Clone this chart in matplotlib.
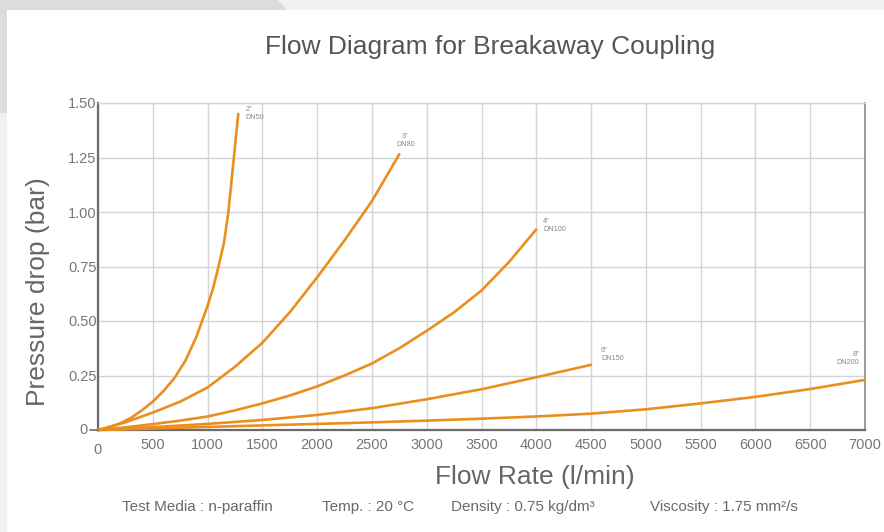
import matplotlib
matplotlib.use("Agg")
import matplotlib.pyplot as plt
from matplotlib.patches import Polygon, Rectangle

plt.rcParams['font.family'] = ['Liberation Sans', 'DejaVu Sans']

# ---- data ----
dn50_q = [0, 100, 200, 300, 400, 500, 600, 700, 800, 900, 1000, 1050, 1100, 1150, 1190, 1220, 1250, 1280]
dn50_p = [0, 0.012, 0.03, 0.055, 0.09, 0.13, 0.18, 0.24, 0.32, 0.43, 0.57, 0.65, 0.75, 0.86, 1.00, 1.15, 1.30, 1.45]

dn80_q = [0, 250, 500, 750, 1000, 1250, 1500, 1750, 2000, 2250, 2500, 2750]
dn80_p = [0, 0.035, 0.08, 0.13, 0.195, 0.29, 0.40, 0.54, 0.70, 0.87, 1.05, 1.265]

dn100_q = [0, 250, 500, 750, 1000, 1250, 1500, 1750, 2000, 2250, 2500, 2750, 3000, 3250, 3500, 3750, 4000]
dn100_p = [0, 0.012, 0.027, 0.043, 0.062, 0.09, 0.122, 0.158, 0.20, 0.25, 0.305, 0.375, 0.455, 0.54, 0.64, 0.77, 0.92]

dn150_q = [0, 250, 500, 1000, 1500, 2000, 2500, 3000, 3500, 4000, 4500]
dn150_p = [0, 0.006, 0.013, 0.028, 0.046, 0.069, 0.10, 0.141, 0.187, 0.242, 0.299]

dn200_q = [0, 500, 1000, 1500, 2000, 2500, 3000, 3500, 4000, 4500, 5000, 5500, 6000, 6500, 7000]
dn200_p = [0, 0.007, 0.014, 0.021, 0.028, 0.035, 0.043, 0.052, 0.062, 0.075, 0.095, 0.122, 0.152, 0.188, 0.23]

series_q = [dn50_q, dn80_q, dn100_q, dn150_q, dn200_q]
series_p = [dn50_p, dn80_p, dn100_p, dn150_p, dn200_p]
series_labels = ['2"\nDN50', '3"\nDN80', '4"\nDN100', '6"\nDN150', '8"\nDN200']

x_ticks = [0, 500, 1000, 1500, 2000, 2500, 3000, 3500, 4000, 4500, 5000, 5500, 6000, 6500, 7000]
y_ticks = [0, 0.25, 0.50, 0.75, 1.00, 1.25, 1.50]
y_tick_labels = ['0', '0.25', '0.50', '0.75', '1.00', '1.25', '1.50']

title = "Flow Diagram for Breakaway Coupling"
xlabel = "Flow Rate (l/min)"
ylabel = "Pressure drop (bar)"
footer = ["Test Media : n-paraffin", "Temp. : 20 °C", "Density : 0.75 kg/dm³", "Viscosity : 1.75 mm²/s"]

# ---- figure ----
W, H = 884, 532
fig = plt.figure(figsize=(W / 100, H / 100), dpi=100)
fig.patch.set_facecolor('white')

def fx(px):
    return px / W

def fy(py):
    return 1 - py / H

# background screenshot shapes
fig.patches.append(Polygon([(fx(0), fy(0)), (fx(278), fy(0)), (fx(288), fy(10)), (fx(0), fy(10))],
                           closed=True, transform=fig.transFigure, facecolor='#dcdcdc', edgecolor='none', zorder=0))
fig.patches.append(Polygon([(fx(278), fy(0)), (fx(W), fy(0)), (fx(W), fy(10)), (fx(288), fy(10))],
                           closed=True, transform=fig.transFigure, facecolor='#f1f1f1', edgecolor='none', zorder=0))
fig.patches.append(Rectangle((fx(0), fy(113)), fx(7), fy(10) - fy(113), transform=fig.transFigure,
                             facecolor='#dcdcdc', edgecolor='none', zorder=0))
fig.patches.append(Rectangle((fx(0), fy(H)), fx(7), fy(113) - fy(H), transform=fig.transFigure,
                             facecolor='#f1f1f1', edgecolor='none', zorder=0))

ax = fig.add_axes([fx(98), fy(430), fx(865) - fx(98), fy(103) - fy(430)])
ax.set_xlim(0, 7000)
ax.set_ylim(0, 1.5)

orange = '#EA8F1E'
for q, p in zip(series_q, series_p):
    ax.plot(q, p, color=orange, lw=1.9, solid_capstyle='round', solid_joinstyle='round',
            zorder=3, clip_on=False)

label_offsets = [(7, 0), (6, 6), (7, 4), (10, 3), (-6, 14)]
label_ha = ['left', 'center', 'left', 'left', 'right']
label_va = ['center', 'bottom', 'center', 'bottom', 'bottom']
for q, p, lab, (dx, dy), ha, va in zip(series_q, series_p, series_labels, label_offsets, label_ha, label_va):
    ax.annotate(lab, (q[-1], p[-1]), xytext=(dx, dy), textcoords='offset pixels',
                fontsize=5.2, color='#888888', ha=ha, va=va, linespacing=1.2)

ax.set_xticks(x_ticks)
ax.set_yticks(y_ticks)
ax.set_yticklabels([''] + y_tick_labels[1:])
ax.set_xticklabels([''] + [str(v) for v in x_ticks[1:]])
ax.annotate('0', (0, 0), xytext=(0, -20), textcoords='offset pixels', ha='center', va='center',
            fontsize=10.5, color='#777777', annotation_clip=False)
ax.annotate('0', (0, 0), xytext=(-15, 0), textcoords='offset pixels', ha='center', va='center',
            fontsize=10.5, color='#777777', annotation_clip=False)
ax.tick_params(axis='both', length=0, labelsize=10.5, labelcolor='#777777')
ax.tick_params(axis='x', pad=6)
ax.tick_params(axis='y', pad=1)
ax.grid(True, color='#d4d4d4', lw=1.0)
ax.set_axisbelow(True)
for s in ['left', 'bottom']:
    ax.spines[s].set_color('#6a6a6a')
    ax.spines[s].set_linewidth(1.6)
ax.spines['right'].set_color('#8a8a8a')
ax.spines['right'].set_linewidth(1.2)
ax.spines['top'].set_color('#d4d4d4')
ax.spines['top'].set_linewidth(1.0)
ax.annotate('', (0, 0), xytext=(-8, 0), textcoords='offset pixels',
            arrowprops=dict(arrowstyle='-', color='#6a6a6a', lw=1.2, shrinkA=0, shrinkB=0),
            annotation_clip=False)

fig.text(fx(490), fy(47), title, ha='center', va='center', fontsize=19, color='#555555')
fig.text(fx(38), fy(292), ylabel, ha='center', va='center', rotation=90, fontsize=19, color='#666666')
fig.text(fx(535), fy(477), xlabel, ha='center', va='center', fontsize=19, color='#666666')

footer_x = [122, 322, 451, 650]
for x, t in zip(footer_x, footer):
    fig.text(fx(x), fy(507), t, ha='left', va='center', fontsize=11, color='#6a6a6a')

fig.savefig('out.png', dpi=100, facecolor=fig.get_facecolor())
